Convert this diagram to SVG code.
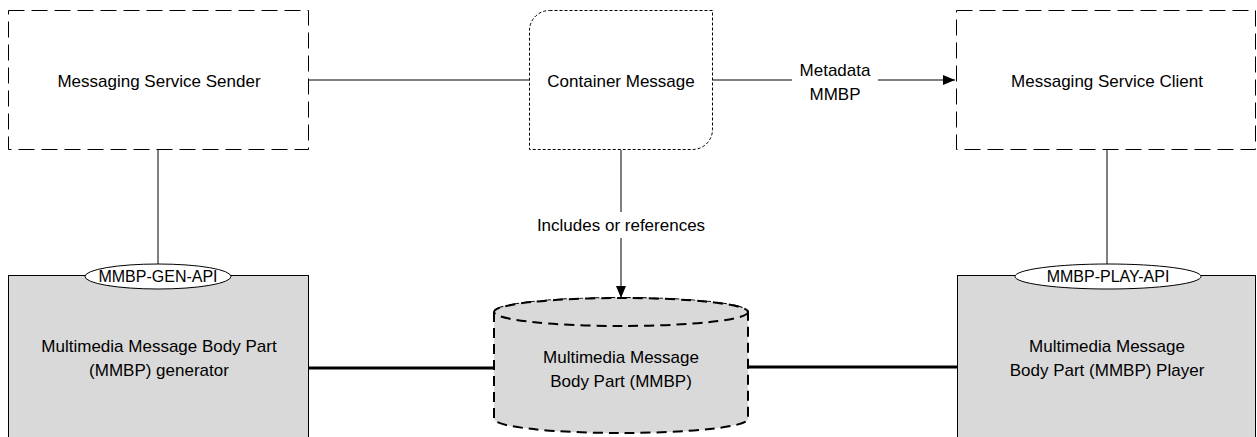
<svg xmlns="http://www.w3.org/2000/svg" width="1257" height="437" viewBox="0 0 1257 437">
<defs>
<style>
text{font-family:"Liberation Sans",Arial,sans-serif;font-size:17px;fill:#000;text-anchor:middle}
.small{font-size:16px}
.ldash{fill:#fff;stroke:#000;stroke-width:1;stroke-dasharray:16 7}
.sdash{fill:#fff;stroke:#000;stroke-width:1;stroke-dasharray:3 2}
.gray{fill:#d9d9d9;stroke:#000;stroke-width:1}
.api{fill:#fff;stroke:#000;stroke-width:1}
.cyl{fill:#d9d9d9;stroke:#000;stroke-width:2;stroke-dasharray:10 6}
.ln{fill:none;stroke:#000;stroke-width:1}
.thick{fill:none;stroke:#000;stroke-width:3}
</style>
<marker id="arr" viewBox="0 0 12 10" refX="12" refY="5" markerWidth="12" markerHeight="10" markerUnits="userSpaceOnUse" orient="auto">
<path d="M0,0 L12,5 L0,10 Z" fill="#000"/>
</marker>
</defs>
<rect width="1257" height="437" fill="#fff"/>
<g id="connectors">
<line class="ln" x1="309" y1="80" x2="529" y2="80"/>
<line class="ln" x1="713" y1="80" x2="792" y2="80"/>
<line class="ln" x1="878" y1="80" x2="955" y2="80" marker-end="url(#arr)"/>
<line class="ln" x1="621" y1="150" x2="621" y2="212"/>
<line class="ln" x1="621" y1="238" x2="621" y2="298" marker-end="url(#arr)"/>
<line class="ln" x1="158" y1="150" x2="158" y2="264"/>
<line class="ln" x1="1107" y1="150" x2="1107" y2="264"/>
<line class="thick" x1="309" y1="368" x2="494" y2="368"/>
<line class="thick" x1="748" y1="367" x2="957" y2="367"/>
<text x="835" y="76">Metadata</text>
<text x="835" y="100">MMBP</text>
<text x="621" y="231">Includes or references</text>
</g>
<g id="sender">
<rect class="ldash" x="8.5" y="10.5" width="300" height="139"/>
<text x="159" y="87">Messaging Service Sender</text>
</g>
<g id="container">
<path class="sdash" d="M549.5,10.5 H712.5 V129.5 A20,20 0 0 1 692.5,149.5 H529.5 V30.5 A20,20 0 0 1 549.5,10.5 Z"/>
<text x="621" y="87">Container Message</text>
</g>
<g id="client">
<rect class="ldash" x="956.5" y="10.5" width="299" height="139"/>
<text x="1107" y="87">Messaging Service Client</text>
</g>
<g id="generator">
<rect class="gray" x="8.5" y="275.5" width="300" height="170"/>
<text x="159" y="352">Multimedia Message Body Part</text>
<text x="159" y="376">(MMBP) generator</text>
</g>
<g id="gen-api">
<ellipse class="api" cx="158" cy="276.5" rx="73" ry="12.5"/>
<text class="small" x="158" y="282">MMBP-GEN-API</text>
</g>
<g id="player">
<rect class="gray" x="957.5" y="275.5" width="298" height="170"/>
<text x="1107" y="352">Multimedia Message</text>
<text x="1107" y="376">Body Part (MMBP) Player</text>
</g>
<g id="play-api">
<ellipse class="api" cx="1108" cy="276.5" rx="93" ry="12.5"/>
<text class="small" x="1108" y="282">MMBP-PLAY-API</text>
</g>
<g id="mmbp">
<path class="cyl" d="M494,312 V419 A127,14 0 0 0 748,419 V312 A127,14 0 0 0 494,312 Z"/>
<ellipse class="cyl" cx="621" cy="312" rx="127" ry="14"/>
<text x="621" y="363">Multimedia Message</text>
<text x="621" y="387">Body Part (MMBP)</text>
</g>
</svg>
